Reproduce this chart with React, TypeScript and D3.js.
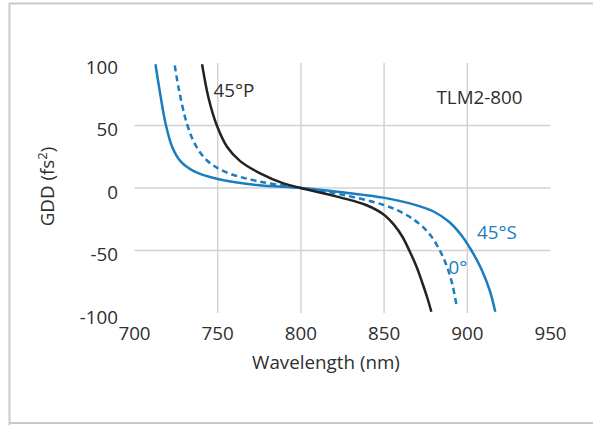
import React from "react";
import * as d3 from "d3";

const xTicks = [700, 750, 800, 850, 900, 950];
const yTicks = [100, 50, 0, -50, -100];
const xGrid = [750, 800, 850, 900];
const yGrid = [50, 0, -50];

// 45°S (blue solid)
const s45: [number, number][] = [
  [712.6, 99], [715.6, 74], [718.6, 52], [722.6, 33], [727.6, 21.5], [735.6, 13.5],
  [750, 7.2], [773.5, 2.4], [800, 0], [823.5, -3.2], [849.5, -7.7], [866, -12.5],
  [880, -19], [889, -27], [896, -37], [902.5, -50], [908.5, -65], [913.5, -82], [916.8, -99],
];
// 0° (blue dashed)
const s0: [number, number][] = [
  [724.2, 98], [726.8, 78], [731.6, 51], [736.8, 34], [743.6, 22], [753.5, 13.5],
  [773.5, 5.6], [800, 0], [823.5, -5], [849.5, -13.5], [862, -20.5], [871, -28.5],
  [878, -38], [883.5, -50], [887.8, -63], [891, -77], [893.8, -96],
];
// 45°P (black)
const p45: [number, number][] = [
  [740.6, 99], [744.5, 72], [749.2, 51], [755.6, 33], [763.5, 21.5], [775.5, 11.7],
  [789.5, 3.7], [800, 0], [823.5, -7.5], [839.5, -13.8], [849.5, -21], [856, -29.5],
  [861, -39], [865.5, -51], [869.5, -63], [873, -76], [876, -88], [878.4, -99],
];

const BLUE = "#1a7dbf";
const DARK = "#222222";
const TEXT = "#2e2e2e";
const GRID = "#d2d2d2";
const FONT = "'Open Sans', 'Noto Sans', sans-serif";
const FS = 18.8;

export default function App() {
  const x = d3.scaleLinear().domain([700, 950]).range([134.5, 550.5]);
  const y = d3.scaleLinear().domain([100, -100]).range([63, 313]);
  const line = d3
    .line<[number, number]>()
    .x((d) => x(d[0]))
    .y((d) => y(d[1]))
    .curve(d3.curveCatmullRom.alpha(0.5));

  return (
    <svg
      width={593}
      height={425}
      style={{ position: "absolute", left: 0, top: 0, background: "#fff" }}
      fontFamily={FONT}
    >
      <rect x={0} y={0} width={593} height={425} fill="#fff" />
      {/* frame */}
      <path d="M9.5,425 V3.5 H593" fill="none" stroke="#c9c9c9" strokeWidth={2} />
      <line x1={9} x2={593} y1={423} y2={423} stroke="#c9c9c9" strokeWidth={2} />

      {/* grid */}
      {xGrid.map((v) => (
        <line key={"gx" + v} x1={x(v)} x2={x(v)} y1={y(100)} y2={y(-100)} stroke={GRID} strokeWidth={1.5} />
      ))}
      {yGrid.map((v) => (
        <line key={"gy" + v} x1={x(700)} x2={x(950)} y1={y(v)} y2={y(v)} stroke={GRID} strokeWidth={1.5} />
      ))}

      {/* tick labels */}
      {xTicks.map((v) => (
        <text key={"tx" + v} x={x(v)} y={340} textAnchor="middle" fontSize={FS} fill={TEXT}>
          {v}
        </text>
      ))}
      {yTicks.map((v) => (
        <text key={"ty" + v} x={118} y={y(v) + 10.5} textAnchor="end" fontSize={FS} fill={TEXT}>
          {v}
        </text>
      ))}

      {/* axis titles */}
      <text x={326} y={368.5} textAnchor="middle" fontSize={FS} fill={TEXT}>
        Wavelength (nm)
      </text>
      <text
        transform={`translate(53.5,186.5) rotate(-90)`}
        textAnchor="middle"
        fontSize={FS}
        fill={TEXT}
      >
        GDD (fs<tspan fontSize={13} dy={-7}>2</tspan>
        <tspan dy={7}>)</tspan>
      </text>

      {/* curves */}
      <path d={line(s45) || ""} fill="none" stroke={BLUE} strokeWidth={2.5} />
      <path d={line(s0) || ""} fill="none" stroke={BLUE} strokeWidth={2.5} strokeDasharray="6,4" />
      <path d={line(p45) || ""} fill="none" stroke={DARK} strokeWidth={2.5} />

      {/* annotations */}
      <text x={213.5} y={96.5} fontSize={FS} fill={TEXT}>45°P</text>
      <text x={436.5} y={103.5} fontSize={FS} fill={TEXT}>TLM2-800</text>
      <text x={477} y={239} fontSize={FS} fill={BLUE}>45°S</text>
      <text x={448.5} y={273.5} fontSize={FS} fill={BLUE}>0°</text>
    </svg>
  );
}
